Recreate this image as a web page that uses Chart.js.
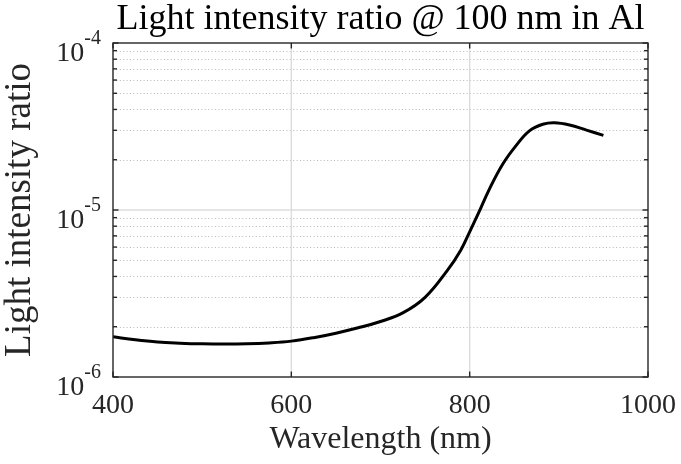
<!DOCTYPE html>
<html><head><meta charset="utf-8">
<script src="https://cdn.jsdelivr.net/npm/chart.js@4.4.0/dist/chart.umd.min.js"></script>
<style>html,body{margin:0;padding:0;background:#fff}#wrap{width:681px;height:464px}</style>
</head><body><div id="wrap"><canvas id="c" width="681" height="464"></canvas></div>
<script>
const wavelengths = [400,425,450,475,500,525,550,575,600,625,650,675,700,725,750,775,790,800,810,822,837,852,867,882,895,912,931,950];
const ratios = [1.74e-6,1.67e-6,1.62e-6,1.595e-6,1.58e-6,1.575e-6,1.58e-6,1.60e-6,1.64e-6,1.72e-6,1.83e-6,1.97e-6,2.15e-6,2.42e-6,3.0e-6,4.35e-6,5.75e-6,7.4e-6,9.6e-6,1.33e-5,1.88e-5,2.43e-5,2.98e-5,3.26e-5,3.33e-5,3.23e-5,3.01e-5,2.80e-5];
const xTicks = [400,600,800,1000];
const yDecades = [1e-6,1e-5,1e-4];
const yExponents = ['-6','-5','-4'];
const titleText = 'Light intensity ratio @ 100 nm in Al';
const xLabel = 'Wavelength (nm)';
const yLabel = 'Light intensity ratio';

const SERIF = '"Liberation Serif", "Times New Roman", serif';
const AXC = '#262626';

function seg(ctx,x1,y1,x2,y2){ctx.beginPath();ctx.moveTo(x1,y1);ctx.lineTo(x2,y2);ctx.stroke();}

const framePlugin = {
  id: 'frame',
  beforeDatasetsDraw(chart) {
    const {ctx, chartArea: a, scales: {x, y}} = chart;
    ctx.save();
    ctx.strokeStyle = '#b8b8b8'; ctx.lineWidth = 1; ctx.setLineDash([1, 2.4]);
    for (let i = 0; i < yDecades.length - 1; i++) {
      for (let k = 2; k <= 9; k++) {
        const py = Math.round(y.getPixelForValue(yDecades[i] * k)) + 0.5;
        seg(ctx, a.left, py, a.right, py);
      }
    }
    ctx.setLineDash([]);
    ctx.strokeStyle = '#dcdcdc'; ctx.lineWidth = 1.4;
    for (let i = 1; i < yDecades.length - 1; i++) {
      const py = y.getPixelForValue(yDecades[i]);
      seg(ctx, a.left, py, a.right, py);
    }
    for (let i = 1; i < xTicks.length - 1; i++) {
      const px = x.getPixelForValue(xTicks[i]);
      seg(ctx, px, a.top, px, a.bottom);
    }
    ctx.restore();
  },
  afterDatasetsDraw(chart) {
    const {ctx, chartArea: a, scales: {x, y}} = chart;
    ctx.save();
    ctx.strokeStyle = AXC; ctx.lineWidth = 1.4;
    ctx.strokeRect(a.left, a.top, a.right - a.left, a.bottom - a.top);
    const maj = 5.5, mnr = 4;
    for (const t of xTicks) {
      const px = x.getPixelForValue(t);
      seg(ctx, px, a.bottom, px, a.bottom - maj);
      seg(ctx, px, a.top, px, a.top + maj);
    }
    for (let i = 0; i < yDecades.length; i++) {
      const py = y.getPixelForValue(yDecades[i]);
      seg(ctx, a.left, py, a.left + maj, py);
      seg(ctx, a.right, py, a.right - maj, py);
      if (i < yDecades.length - 1) {
        for (let k = 2; k <= 9; k++) {
          const q = y.getPixelForValue(yDecades[i] * k);
          seg(ctx, a.left, q, a.left + mnr, q);
          seg(ctx, a.right, q, a.right - mnr, q);
        }
      }
    }
    ctx.fillStyle = AXC;
    ctx.textAlign = 'right'; ctx.textBaseline = 'alphabetic';
    const rightX = a.left - 12;
    for (let i = 0; i < yDecades.length; i++) {
      const py = y.getPixelForValue(yDecades[i]);
      ctx.font = '20px ' + SERIF;
      const ew = ctx.measureText(yExponents[i]).width;
      ctx.fillText(yExponents[i], rightX, py + 0.5);
      ctx.font = '28px ' + SERIF;
      ctx.fillText('10', rightX - ew, py + 17.5);
    }
    ctx.restore();
  }
};

new Chart(document.getElementById('c'), {
  type: 'line',
  data: {
    datasets: [{
      data: wavelengths.map((w, i) => ({x: w, y: ratios[i]})),
      borderColor: '#000', borderWidth: 3, pointRadius: 0,
      tension: 0.4, fill: false
    }]
  },
  options: {
    responsive: false, animation: false, devicePixelRatio: 1,
    layout: {padding: {top: 0, right: 33, bottom: 0, left: 0}},
    plugins: {
      legend: {display: false}, tooltip: {enabled: false},
      title: {display: true, text: titleText, fullSize: false, color: '#000',
        font: {family: SERIF, size: 36, weight: 'normal', lineHeight: 1.1},
        padding: {top: 0, bottom: 3.4}}
    },
    scales: {
      x: {
        type: 'linear', min: 400, max: 1000,
        afterBuildTicks: s => { s.ticks = xTicks.map(v => ({value: v})); },
        afterFit: s => { s.height = 87; s.paddingLeft = 0; s.paddingRight = 0; },
        grid: {display: false, drawTicks: false},
        border: {display: false},
        ticks: {color: AXC, padding: 12, maxRotation: 0, font: {family: SERIF, size: 28},
          callback: v => String(v)},
        title: {display: true, text: xLabel, color: AXC, padding: {top: 0, bottom: 5.5},
          font: {family: SERIF, size: 32, lineHeight: 1.2}}
      },
      y: {
        type: 'logarithmic', min: yDecades[0], max: yDecades[yDecades.length - 1],
        afterBuildTicks: s => { s.ticks = yDecades.map(v => ({value: v})); },
        afterFit: s => { s.width = 113; s.paddingTop = 0; s.paddingBottom = 0; },
        grid: {display: false, drawTicks: false},
        border: {display: false},
        ticks: {display: false},
        title: {display: true, text: yLabel, color: AXC, padding: {top: 0, bottom: 0},
          font: {family: SERIF, size: 37, lineHeight: 1.1}}
      }
    }
  },
  plugins: [framePlugin]
});
</script>
</body></html>
